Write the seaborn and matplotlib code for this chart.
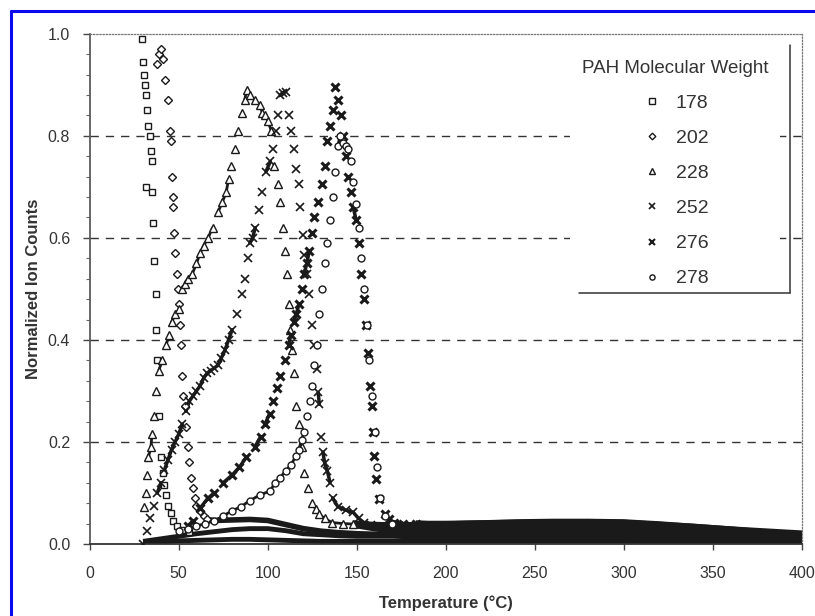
import matplotlib
matplotlib.use("Agg")
import matplotlib.pyplot as plt
import matplotlib.ticker as mticker
from matplotlib.lines import Line2D
import numpy as np
import pandas as pd
import seaborn as sns

# ── Data ─────────────────────────────────────────────────────────────────────
T178 = [29.2, 30.0, 30.6, 31.2, 31.6, 32.4, 33.0, 33.8, 34.4, 35.0, 31.5, 35.2, 35.5, 36.4,
        37.3, 37.4, 37.9, 38.8, 40.0, 41.0, 42.0, 43.0, 44.0, 45.5, 47.0, 49.0, 52.0, 56.0]
Y178 = [0.99, 0.945, 0.92, 0.90, 0.88, 0.85, 0.82, 0.80, 0.77, 0.75, 0.70, 0.69, 0.63, 0.555,
        0.49, 0.42, 0.36, 0.25, 0.17, 0.14, 0.115, 0.095, 0.075, 0.06, 0.045, 0.035, 0.028, 0.024]

T202 = [38.0, 39.0, 40.0, 41.0, 42.5, 44.0, 45.0, 45.5, 46.0, 46.6, 47.0, 47.5, 48.0, 49.0,
        49.5, 50.4, 50.8, 51.5, 52.0, 52.5, 53.4, 54.0, 55.0, 56.0, 57.0, 58.0, 59.0, 60.0,
        62.0, 64.0, 66.0]
Y202 = [0.94, 0.96, 0.97, 0.95, 0.91, 0.87, 0.81, 0.79, 0.72, 0.68, 0.66, 0.61, 0.57, 0.53,
        0.50, 0.47, 0.43, 0.39, 0.33, 0.29, 0.27, 0.23, 0.19, 0.16, 0.13, 0.11, 0.09, 0.075,
        0.065, 0.055, 0.048]

T228 = [30.6, 31.5, 32.4, 33.0, 34.4, 35.0, 36.0, 37.3, 38.8, 40.8, 43.0, 44.5, 46.0, 48.0,
        50.4, 52.0, 53.5, 55.0, 57.7, 60.0, 62.0, 64.0, 66.5, 69.0, 72.0, 74.5, 76.7, 78.0,
        79.6, 81.6, 83.4, 85.4, 87.0, 88.3, 90.0, 92.7, 95.6, 97.0, 98.5, 100.0, 102.0, 103.8,
        105.8, 107.0, 108.7, 109.6, 110.8, 111.7, 112.5, 113.5, 114.6, 116.0, 117.5, 119.0,
        120.4, 122.4, 124.8, 127.0, 129.0, 132.0, 136.0, 142.0, 148.0]
Y228 = [0.073, 0.10, 0.135, 0.17, 0.19, 0.215, 0.25, 0.30, 0.34, 0.36, 0.39, 0.41, 0.435, 0.45,
        0.46, 0.50, 0.51, 0.52, 0.53, 0.55, 0.57, 0.585, 0.60, 0.62, 0.65, 0.67, 0.69, 0.715,
        0.74, 0.775, 0.81, 0.845, 0.87, 0.89, 0.88, 0.87, 0.86, 0.845, 0.84, 0.83, 0.81, 0.74,
        0.705, 0.67, 0.62, 0.575, 0.53, 0.47, 0.42, 0.38, 0.335, 0.27, 0.235, 0.19,
        0.14, 0.11, 0.08, 0.068, 0.058, 0.05, 0.042, 0.04, 0.039]

T252 = [30, 32, 34, 36, 38, 40, 42, 44, 46, 48, 50, 52, 54, 56, 58, 60, 62, 64, 66, 68, 70,
        72, 74, 76, 78, 80, 82.5, 85.4, 87, 89, 90, 91.5, 93, 95, 97, 99, 101.5, 103, 104.5,
        106, 107, 108.5, 110, 111.7, 113, 114.6, 116, 117.5, 118, 120, 120.4, 122, 123.3,
        124.8, 126, 127.7, 128.3, 129, 130, 131, 132, 133.5, 135, 136.4, 139.4, 144, 148,
        151, 154, 158]
Y252 = [0.0, 0.025, 0.05, 0.075, 0.10, 0.12, 0.145, 0.165, 0.185, 0.20, 0.215, 0.235, 0.26,
        0.28, 0.29, 0.30, 0.31, 0.325, 0.335, 0.34, 0.345, 0.35, 0.365, 0.38, 0.40, 0.42,
        0.45, 0.49, 0.52, 0.56, 0.59, 0.60, 0.62, 0.655, 0.69, 0.73, 0.75, 0.775, 0.81, 0.84,
        0.88, 0.885, 0.887, 0.84, 0.81, 0.775, 0.736, 0.705, 0.66, 0.605, 0.567, 0.53, 0.49,
        0.43, 0.39, 0.343, 0.297, 0.274, 0.21, 0.18, 0.158, 0.143, 0.12, 0.09, 0.073, 0.066,
        0.062, 0.05, 0.042, 0.038]

T276 = [55, 58, 62, 66.5, 70, 75, 80, 84, 88, 92.7, 96, 98.5, 101, 103, 105, 107, 109.5,
        111.7, 113, 114.6, 116, 117.5, 119, 120.4, 122, 123.3, 125, 126, 128, 130.6, 132,
        133.5, 135, 136.4, 138, 139.5, 141, 142.5, 143.7, 145, 146.6, 148, 149.6, 151, 152.5,
        154, 155.4, 156.3, 157.4, 158.3, 159.2, 159.8, 161, 162.7, 165.6, 168, 171, 176, 183]
Y276 = [0.035, 0.045, 0.07, 0.09, 0.10, 0.12, 0.135, 0.15, 0.17, 0.19, 0.21, 0.235, 0.255,
        0.28, 0.305, 0.33, 0.36, 0.39, 0.41, 0.435, 0.45, 0.47, 0.50, 0.53, 0.55, 0.575, 0.61,
        0.64, 0.67, 0.705, 0.74, 0.79, 0.82, 0.85, 0.895, 0.87, 0.84, 0.80, 0.76, 0.72, 0.69,
        0.66, 0.636, 0.59, 0.53, 0.48, 0.43, 0.374, 0.31, 0.27, 0.22, 0.173, 0.127, 0.089,
        0.058, 0.048, 0.042, 0.04, 0.039]

T278 = [50, 55, 60, 65, 70, 75, 80, 85, 90, 95.6, 101.5, 104, 107, 110, 113, 116, 117.5, 119,
        120.5, 122, 123.5, 124.8, 126, 127.5, 129, 130.5, 132, 133.5, 135, 136.4, 138, 139.4,
        140.5, 142, 143.7, 145, 146.6, 148, 149.6, 151, 152.5, 154, 155.5, 157, 158.5, 160,
        161.5, 163, 166, 170]
Y278 = [0.025, 0.03, 0.035, 0.04, 0.045, 0.055, 0.065, 0.073, 0.085, 0.096, 0.104, 0.12, 0.13,
        0.143, 0.155, 0.173, 0.185, 0.204, 0.22, 0.25, 0.28, 0.31, 0.35, 0.39, 0.45, 0.50,
        0.55, 0.59, 0.636, 0.68, 0.73, 0.78, 0.80, 0.786, 0.78, 0.775, 0.75, 0.71, 0.667,
        0.62, 0.56, 0.50, 0.43, 0.36, 0.29, 0.22, 0.15, 0.09, 0.055, 0.04]

# baselines (dense noisy floor after desorption)
BT_LOW = [30, 40, 50, 60, 70, 80, 90, 100, 110, 120, 130, 140, 150, 160, 170, 180, 190, 200,
          220, 240, 260, 280, 300, 320, 340, 360, 380, 400]
B178 = [0.005, 0.010, 0.015, 0.020, 0.024, 0.028, 0.030, 0.030, 0.026, 0.020, 0.018, 0.016,
        0.015, 0.015, 0.015, 0.014, 0.014, 0.014, 0.014, 0.013, 0.013, 0.012, 0.012, 0.011,
        0.010, 0.009, 0.008, 0.007]
B_LOW2 = [0.0, 0.004, 0.006, 0.007, 0.008, 0.009, 0.009, 0.008, 0.007, 0.006, 0.005, 0.005,
          0.005, 0.005, 0.005, 0.005, 0.005, 0.005, 0.005, 0.005, 0.005, 0.005, 0.005, 0.004,
          0.004, 0.004, 0.004, 0.004]
BT202 = [66, 70, 80, 90, 100, 110, 120, 130, 140, 150, 160, 170, 180, 190, 200, 220, 240,
         260, 280, 300, 320, 340, 360, 380, 400]
B202 = [0.048, 0.046, 0.047, 0.048, 0.046, 0.038, 0.030, 0.025, 0.022, 0.020, 0.019, 0.019,
        0.019, 0.019, 0.019, 0.020, 0.020, 0.020, 0.020, 0.019, 0.017, 0.015, 0.013, 0.011,
        0.009]
BT_HIGH = [148, 160, 170, 180, 190, 200, 220, 240, 260, 280, 300, 320, 340, 360, 380, 400]
B228 = [0.039, 0.032, 0.028, 0.027, 0.027, 0.027, 0.028, 0.029, 0.030, 0.030, 0.029, 0.026,
        0.023, 0.020, 0.017, 0.014]
B252 = [0.038, 0.036, 0.035, 0.035, 0.036, 0.037, 0.039, 0.040, 0.041, 0.041, 0.040, 0.036,
        0.032, 0.027, 0.023, 0.019]
BT276 = [183, 190, 200, 220, 240, 260, 280, 300, 320, 340, 360, 380, 400]
B276 = [0.039, 0.038, 0.038, 0.039, 0.041, 0.042, 0.042, 0.041, 0.037, 0.032, 0.027, 0.021,
        0.016]
BT278 = [170, 180, 190, 200, 220, 240, 260, 280, 300, 320, 340, 360, 380, 400]
B278 = [0.040, 0.033, 0.030, 0.030, 0.032, 0.034, 0.035, 0.035, 0.034, 0.030, 0.026, 0.021,
        0.016, 0.012]

LABELS = ["178", "202", "228", "252", "276", "278"]
GRID_Y = [0.2, 0.4, 0.6, 0.8]

# ── Style ────────────────────────────────────────────────────────────────────
sns.set_theme(style="white")
plt.rcParams["font.family"] = ["Liberation Sans", "DejaVu Sans"]
INK = "#1a1a1a"
TXT = "#333333"

fig = plt.figure(figsize=(8.15, 6.16), dpi=100)
ax = fig.add_axes([0.110, 0.117, 0.874, 0.828])
ax.set_xlim(0, 400)
ax.set_ylim(0, 1.0)

for gy in GRID_Y:
    ax.axhline(gy, color="#333333", lw=1.0, ls=(0, (6, 5)), zorder=1)

# dense floor of all series
for bt, by, w in [(BT_LOW, B178, 3.5), (BT_LOW, B_LOW2, 3.5), (BT202, B202, 4.0),
                  (BT_HIGH, B228, 5.5), (BT_HIGH, B252, 5.5), (BT276, B276, 5.5),
                  (BT278, B278, 5.5)]:
    sns.lineplot(x=bt, y=by, ax=ax, color=INK, lw=w, estimator=None, sort=False,
                 solid_capstyle="butt", zorder=2)


def trail_frame(tx, ty, gap_px=13):
    """Split a series into runs where neighbouring points sit close on screen,
    so dense stretches read as a solid trail and sparse ones stay as loose marks."""
    px = ax.transData.transform(np.column_stack([tx, ty]))
    step = np.hypot(*np.diff(px, axis=0).T)
    seg = np.concatenate([[0], np.cumsum(step > gap_px)])
    return pd.DataFrame({"T": tx, "y": ty, "seg": seg})


series = [
    (T178, Y178, dict(marker="s", ms=5.0, mfc="white", mec=INK, mew=1.0), 0),
    (T202, Y202, dict(marker="D", ms=4.5, mfc="white", mec=INK, mew=1.0), 0),
    (T228, Y228, dict(marker="^", ms=5.5, mfc="white", mec=INK, mew=1.0), 2.0),
    (T252, Y252, dict(marker="x", ms=6.0, mfc=INK, mec=INK, mew=1.2), 2.5),
    (T276, Y276, dict(marker="x", ms=6.0, mfc=INK, mec=INK, mew=2.2), 2.5),
    (T278, Y278, dict(marker="o", ms=5.0, mfc="white", mec=INK, mew=1.0), 2.0),
]
handles = []
for (tx, ty, kw, trail), lab in zip(series, LABELS):
    if trail:
        df = trail_frame(tx, ty)
        sns.lineplot(data=df, x="T", y="y", units="seg", ax=ax, color=INK, lw=trail,
                     estimator=None, sort=False, zorder=2.5)
    sns.lineplot(x=tx, y=ty, ax=ax, linestyle="", estimator=None, sort=False,
                 zorder=3, **kw)
    legkw = dict(kw)
    legkw["ms"] = kw["ms"] * 0.75
    legkw["mew"] = min(kw["mew"], 1.5)
    handles.append(Line2D([], [], linestyle="", **legkw))

ax.set_xlim(0, 400)
ax.set_ylim(0, 1.0)
ax.set_xlabel("")
ax.xaxis.set_major_locator(mticker.MultipleLocator(50))
ax.yaxis.set_major_locator(mticker.MultipleLocator(0.2))
ax.yaxis.set_minor_locator(mticker.MultipleLocator(0.04))
ax.yaxis.set_major_formatter(mticker.FormatStrFormatter("%.1f"))
ax.tick_params(axis="x", direction="out", length=4, width=1, color="#444444",
               labelsize=11.5, labelcolor=TXT, pad=12, bottom=True)
ax.tick_params(axis="y", which="major", direction="out", length=5, width=1, color="#444444",
               labelsize=11.5, labelcolor=TXT, pad=9, left=True)
ax.tick_params(axis="y", which="minor", direction="out", length=3, width=0.8,
               color="#666666", left=True)

for side in ["top", "right"]:
    ax.spines[side].set_linestyle((0, (1, 1.5)))
    ax.spines[side].set_color("#777777")
    ax.spines[side].set_linewidth(0.9)
ax.spines["left"].set_color("#555555")
ax.spines["bottom"].set_color("#333333")
ax.spines["bottom"].set_linewidth(1.3)

ax.set_xlabel("Temperature (°C)", fontsize=12, fontweight="bold", color=TXT, labelpad=10)
ax.set_ylabel("Normalized Ion Counts", fontsize=12, fontweight="bold", color=TXT, labelpad=5)

leg = ax.legend(handles, LABELS, title="PAH Molecular Weight", loc="upper left",
                bbox_to_anchor=(0.675, 0.972), frameon=True, fancybox=False,
                fontsize=14, title_fontsize=13.5, labelspacing=0.9,
                handlelength=1.0, handletextpad=0.7, borderpad=0.6,
                borderaxespad=0, framealpha=1)
leg.get_frame().set_edgecolor("none")
leg.get_frame().set_facecolor("white")
leg.set_zorder(5)
for t in leg.get_texts():
    t.set_color(TXT)
leg.get_title().set_color(TXT)

# legend border: only bottom and right sides survive in the scan
ax.plot([0.687, 0.983], [0.492, 0.492], transform=ax.transAxes, color="#333333",
        lw=1.1, zorder=6, clip_on=False)
ax.plot([0.983, 0.983], [0.492, 0.978], transform=ax.transAxes, color="#333333",
        lw=1.1, zorder=6, clip_on=False)

# blue frame of the scanned figure (left and top edges)
fig.add_artist(Line2D([11 / 815, 11 / 815], [0, 1 - 11 / 616], color="#0a0aee", lw=2.2))
fig.add_artist(Line2D([11 / 815, 1], [1 - 11 / 616, 1 - 11 / 616], color="#0a0aee", lw=2.2))

fig.savefig("out.png", dpi=100, facecolor="white")
